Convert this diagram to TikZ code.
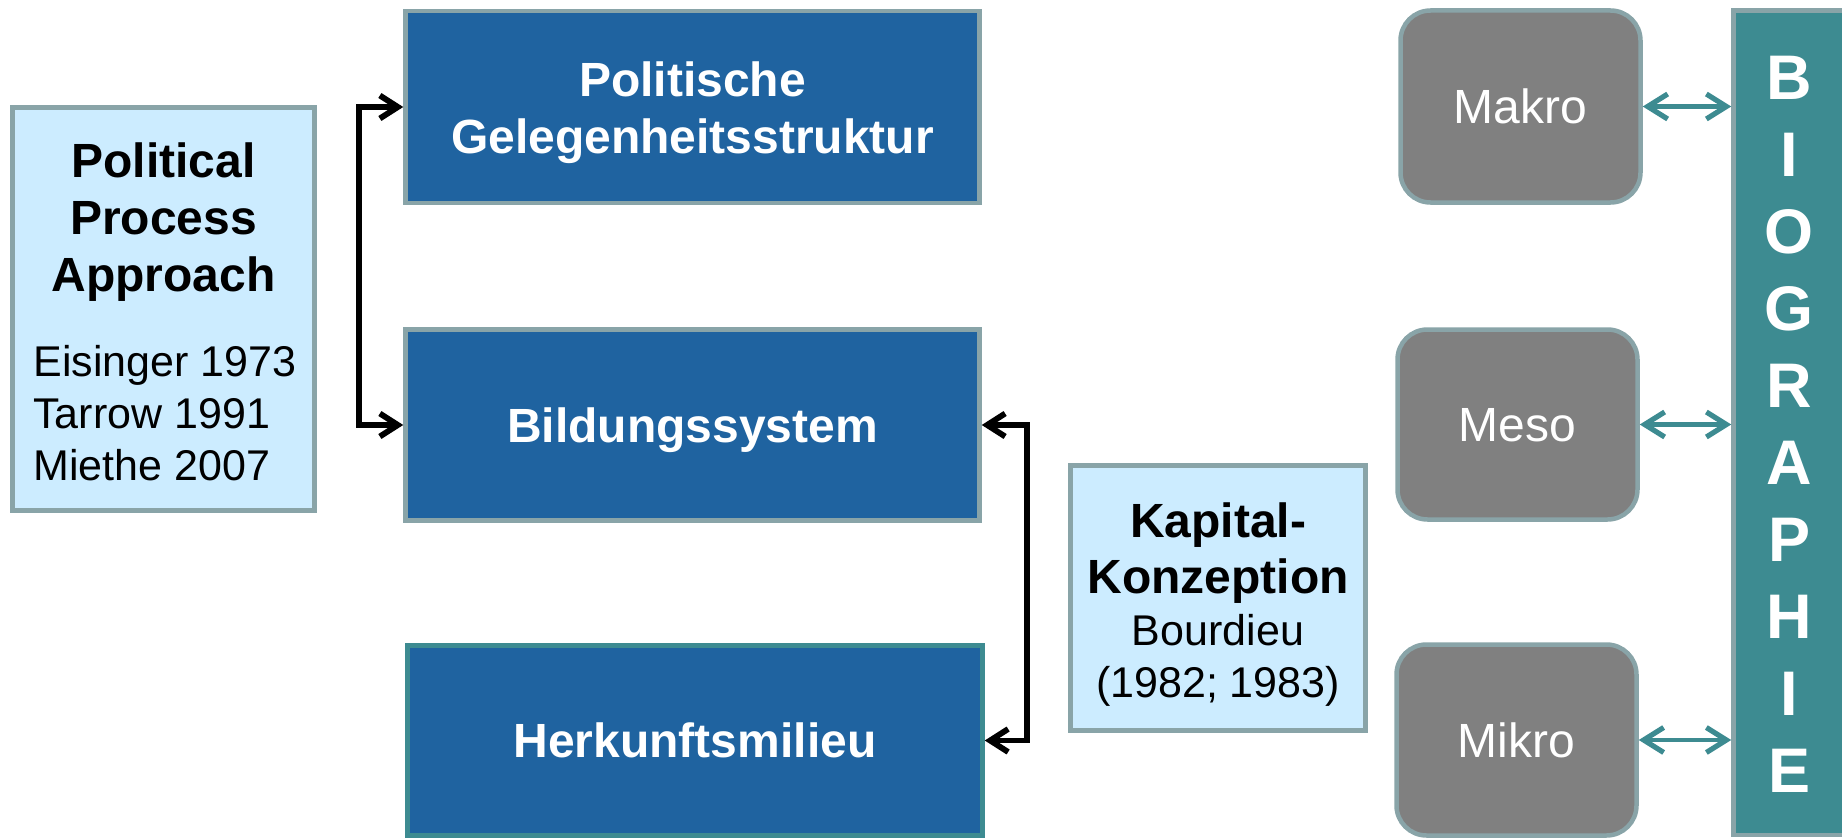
\documentclass[tikz,border=0pt]{standalone}
\usepackage{fontspec}
\setmainfont{Liberation Sans}
\usetikzlibrary{arrows.meta}
\definecolor{boxblue}{RGB}{31,99,160}
\definecolor{edgegray}{RGB}{137,164,168}
\definecolor{lightblue}{RGB}{204,236,255}
\definecolor{midgray}{RGB}{128,128,128}
\definecolor{tealc}{RGB}{61,139,145}
\begin{document}
\begin{tikzpicture}[x=0.5pt,y=-0.5pt,
  frame/.style={draw=edgegray, line width=2.25pt, inner sep=0pt},
  bluebox/.style={frame, fill=boxblue, text=white,
    font=\bfseries\fontsize{24pt}{28.5pt}\selectfont, text height=17.2pt, text depth=0pt},
  lightbox/.style={frame, fill=lightblue},
  graybox/.style={frame, fill=midgray, rounded corners=15pt, text=white,
    font=\fontsize{24pt}{28.5pt}\selectfont, text height=17.2pt, text depth=0pt},
  biobox/.style={frame, fill=tealc},
  bt/.style={inner sep=0pt, anchor=base, font=\bfseries\fontsize{24pt}{28.5pt}\selectfont},
  rt/.style={inner sep=0pt, font=\fontsize{21.5pt}{26pt}\selectfont},
  lt/.style={inner sep=0pt, anchor=base, text=white, font=\bfseries\fontsize{31.5pt}{36pt}\selectfont},
  blk/.style={line width=2.9pt,
    {Straight Barb[length=9pt,width=11.5pt,line width=2.9pt]}-{Straight Barb[length=9pt,width=11.5pt,line width=2.9pt]}},
  tl/.style={draw=tealc, line width=2.4pt,
    {Straight Barb[length=10pt,width=12.5pt,line width=2.6pt]}-{Straight Barb[length=10pt,width=12.5pt,line width=2.6pt]}}
]
\useasboundingbox (0,0) rectangle (1842,840);

% left column
\node[lightbox, minimum width=151pt, minimum height=201.5pt] (ppa) at (163.5,309) {};
\node[bt] (ppa1) at (163.5,177) {Political};
\node[bt] (ppa2) at (163.5,234) {Process};
\node[bt] (ppa3) at (163.5,291) {Approach};
\node[rt, anchor=base west] (lit1) at (33,376) {Eisinger 1973};
\node[rt, anchor=base west] (lit2) at (33,428) {Tarrow 1991};
\node[rt, anchor=base west] (lit3) at (33,480) {Miethe 2007};

% middle column
\node[bluebox, minimum width=287pt, minimum height=96pt] (pol) at (692.5,107) {};
\node[bt, text=white] (pol1) at (692.5,97) {Politische};
\node[bt, text=white] (pol2) at (692.5,154) {Gelegenheitsstruktur};
\node[bluebox, minimum width=287pt, minimum height=95.5pt] (bil) at (692.5,425) {Bildungssystem};
\node[bluebox, draw=tealc, minimum width=287.5pt, minimum height=95pt] (herk) at (695,740.5) {Herkunftsmilieu};

% Kapital box
\node[lightbox, minimum width=147.5pt, minimum height=132.5pt] (kap) at (1218,598) {};
\node[bt] (kap1) at (1218,537) {Kapital-};
\node[bt] (kap2) at (1218,593) {Konzeption};
\node[rt, anchor=base] (kap3) at (1218,645) {Bourdieu};
\node[rt, anchor=base] (kap4) at (1218,697) {(1982; 1983)};

% levels
\node[graybox, minimum width=120pt, minimum height=96pt] (mak) at (1520.5,106.5) {Makro};
\node[graybox, minimum width=120pt, minimum height=95pt] (mes) at (1517.5,424.5) {Meso};
\node[graybox, minimum width=120pt, minimum height=95.5pt] (mik) at (1516.5,740) {Mikro};

% Biographie
\node[biobox, minimum width=55.5pt, minimum height=412.25pt] (bio) at (1789,422.75) {};
\foreach \l [count=\i] in {B,I,O,G,R,A,P,H,I,E}
  \node[lt] (bio\i) at (1789,{100+76.9*(\i-1)}) {\l};

% connectors
\coordinate (lx) at (359,0);
\coordinate (rx) at (1027,0);
\draw[blk] (pol.west) -- (pol.west -| lx) |- (bil.west);
\draw[blk] (bil.east) -- (bil.east -| rx) |- (herk.east);
\draw[tl] (mak.east) -- (mak.east -| bio.west);
\draw[tl] (mes.east) -- (mes.east -| bio.west);
\draw[tl] (mik.east) -- (mik.east -| bio.west);
\end{tikzpicture}
\end{document}
